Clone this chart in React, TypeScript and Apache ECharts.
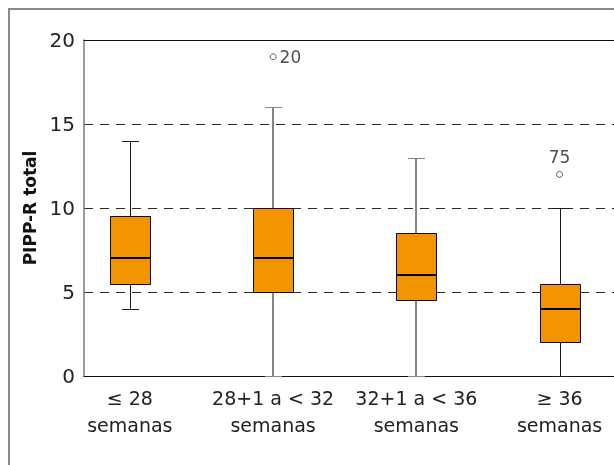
import React, { useEffect, useRef } from "react";
import * as echarts from "echarts";

const categories = ["≤ 28\nsemanas", "28+1 a < 32\nsemanas", "32+1 a < 36\nsemanas", "≥ 36\nsemanas"];
const whiskerLow = [4, 0, 0, 0];
const q1 = [5.5, 5, 4.5, 2];
const median = [7, 7, 6, 4];
const q3 = [9.5, 10, 8.5, 5.5];
const whiskerHigh = [14, 16, 13, 10];
const outlierGroup = [1, 3];
const outlierValue = [19, 12];
const outlierCase = ["20", "75"];
const yMin = 0;
const yMax = 20;
const yStep = 5;

const FONT = "'DejaVu Sans', sans-serif";
const ORANGE = "#F29400";
const whiskerColors = ["#1a1a1a", "#858585", "#858585", "#1a1a1a"];
const whiskerWidths = [1, 2, 2, 1];
const outlierLabelPos = ["right", "top"];

export default function App() {
  const ref = useRef<HTMLDivElement>(null);
  useEffect(() => {
    if (!ref.current) return;
    const chart = echarts.init(ref.current, null, { renderer: "svg" });
    const boxData = categories.map((_, i) => [i, whiskerLow[i], q1[i], median[i], q3[i], whiskerHigh[i]]);
    const xMin = -0.32;
    const xMax = 3.38;
    chart.setOption({
      animation: false,
      grid: { left: 84, right: 0, top: 40, bottom: 89 },
      xAxis: [
        {
          type: "value",
          min: xMin,
          max: xMax,
          position: "bottom",
          axisLine: { show: true, onZero: false, lineStyle: { color: "#111", width: 1 } },
          axisTick: { show: false },
          splitLine: { show: false },
          axisLabel: {
            customValues: categories.map((_, i) => i),
            formatter: (v: number) => categories[Math.round(v)] ?? "",
            fontFamily: FONT,
            fontSize: 19,
            color: "#222",
            lineHeight: 27,
            margin: 8,
          },
        },
        {
          type: "value",
          min: xMin,
          max: xMax,
          position: "top",
          axisLine: { show: true, onZero: false, lineStyle: { color: "#111", width: 1 } },
          axisTick: { show: false },
          axisLabel: { show: false },
          splitLine: { show: false },
        },
      ],
      yAxis: {
        type: "value",
        min: yMin,
        max: yMax,
        interval: yStep,
        name: "PIPP-R total",
        nameLocation: "middle",
        nameGap: 46,
        nameTextStyle: { fontFamily: FONT, fontWeight: "bold", fontSize: 17, color: "#111" },
        axisLine: { show: true, onZero: false, lineStyle: { color: "#7a7a7a", width: 1.5 } },
        axisTick: { show: false },
        axisLabel: { fontFamily: FONT, fontSize: 20, color: "#222", margin: 9 },
        splitLine: { show: true, lineStyle: { color: "#2a2a2a", type: [9, 7], width: 1.2 } },
      },
      series: [
        {
          type: "custom",
          data: boxData,
          encode: { x: 0, y: [1, 2, 3, 4, 5] },
          renderItem: (params: any, api: any) => {
            const i = params.dataIndex;
            const xv = api.value(0);
            const p = (v: number) => api.coord([xv, v]);
            const cxRaw = p(api.value(1))[0];
            const cx = Math.round(cxRaw);
            const yLo = Math.round(p(api.value(1))[1]) + 0.5;
            const yQ1 = Math.round(p(api.value(2))[1]) + 0.5;
            const yMed = Math.round(p(api.value(3))[1]);
            const yQ3 = Math.round(p(api.value(4))[1]) + 0.5;
            const yHi = Math.round(p(api.value(5))[1]) + 0.5;
            const wc = whiskerColors[i];
            const ww = whiskerWidths[i];
            const wx = ww === 1 ? cx + 0.5 : cx;
            const hw = 20;
            const cap = 8;
            return {
              type: "group",
              children: [
                { type: "line", shape: { x1: wx, y1: yQ3, x2: wx, y2: yHi }, style: { stroke: wc, lineWidth: ww } },
                { type: "line", shape: { x1: wx, y1: yQ1, x2: wx, y2: yLo }, style: { stroke: wc, lineWidth: ww } },
                { type: "line", shape: { x1: cx - cap, y1: yHi, x2: cx + cap + 1, y2: yHi }, style: { stroke: wc, lineWidth: 1 } },
                { type: "line", shape: { x1: cx - cap, y1: yLo, x2: cx + cap + 1, y2: yLo }, style: { stroke: wc, lineWidth: 1 } },
                {
                  type: "rect",
                  shape: { x: cx - hw + 0.5, y: yQ3, width: hw * 2, height: yQ1 - yQ3 },
                  style: { fill: ORANGE, stroke: "#111", lineWidth: 1, shadowColor: "rgba(0,0,0,0.35)", shadowBlur: 1.5 },
                },
                { type: "line", shape: { x1: cx - hw + 0.5, y1: yMed, x2: cx + hw + 0.5, y2: yMed }, style: { stroke: "#000", lineWidth: 2 } },
              ],
            };
          },
          z: 3,
        },
        {
          type: "scatter",
          symbol: "circle",
          symbolSize: 6,
          itemStyle: { color: "#fff", borderColor: "#333", borderWidth: 1 },
          data: outlierGroup.map((g, k) => ({
            value: [g, outlierValue[k]],
            label: {
              show: true,
              formatter: outlierCase[k],
              position: outlierLabelPos[k],
              distance: outlierLabelPos[k] === "right" ? 3 : 5,
              fontFamily: FONT,
              fontSize: 17,
              color: "#222",
            },
          })),
          z: 4,
        },
      ],
    });
    return () => chart.dispose();
  }, []);
  return (
    <>
      <div
        style={{
          position: "fixed",
          left: 8,
          top: 8,
          right: 0,
          bottom: 0,
          borderLeft: "2px solid #8a8a8a",
          borderTop: "2px solid #8a8a8a",
          boxSizing: "border-box",
        }}
      />
      <div ref={ref} style={{ position: "fixed", left: 0, top: 0, width: 614, height: 465 }} />
    </>
  );
}
